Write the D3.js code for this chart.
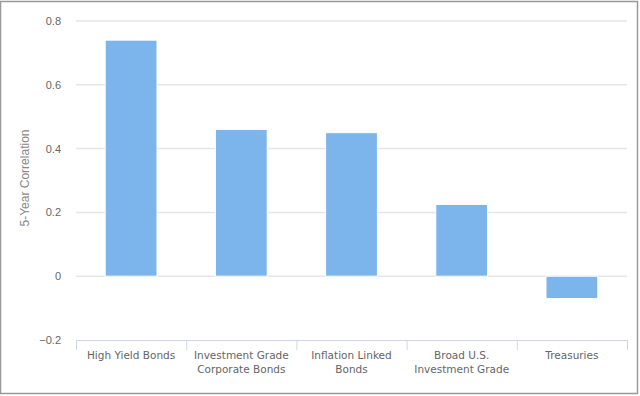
<!DOCTYPE html>
<html lang="en">
<head>
<meta charset="UTF-8" />
<title>5-Year Correlation</title>
<style>
  body { margin: 0; background: #fff; }
  text { font-family: "DejaVu Sans", sans-serif; }
  .yaxis text { font-family: "Liberation Sans", Arial, sans-serif; }
</style>
</head>
<body>
<svg id="svg" width="640" height="396"></svg>
<script src="https://d3js.org/d3.v7.min.js"></script>
<script>
const categories = [
  ['High Yield Bonds'],
  ['Investment Grade', 'Corporate Bonds'],
  ['Inflation Linked', 'Bonds'],
  ['Broad U.S.', 'Investment Grade'],
  ['Treasuries']
];
const correlations = [0.74, 0.46, 0.45, 0.225, -0.07];
const yTicks = [-0.2, 0, 0.2, 0.4, 0.6, 0.8];

const svg = d3.select('#svg');

// outer frame
svg.append('rect')
  .attr('x', 0.5).attr('y', 1.5)
  .attr('width', 637).attr('height', 392)
  .attr('fill', 'none')
  .attr('stroke', '#999')
  .attr('stroke-width', 1.5);

const plotLeft = 76, plotRight = 627, plotTop = 21, plotBottom = 340;

const x = d3.scaleBand()
  .domain(categories.map((d, i) => i))
  .range([plotLeft, plotRight])
  .padding(0);

const y = d3.scaleLinear().domain([-0.2, 0.8]).range([plotBottom, plotTop]);

// gridlines
svg.append('g')
  .selectAll('line')
  .data(yTicks.filter(d => d !== -0.2))
  .enter()
  .append('line')
  .attr('x1', plotLeft).attr('x2', plotRight)
  .attr('y1', d => y(d)).attr('y2', d => y(d))
  .attr('stroke', '#e6e6e6')
  .attr('stroke-width', 1.5);

// y labels
const yAxisG = svg.append('g').attr('class', 'yaxis');
const fmt = d3.format('');
yAxisG.selectAll('text.tick')
  .data(yTicks)
  .enter()
  .append('text')
  .attr('class', 'tick')
  .attr('x', 61)
  .attr('y', d => y(d) + 4)
  .attr('text-anchor', 'end')
  .attr('fill', '#666')
  .style('font-size', '11px')
  .text(d => d === 0 ? '0' : fmt(d));

// y title
yAxisG.append('text')
  .attr('transform', 'translate(29,178) rotate(-90)')
  .attr('text-anchor', 'middle')
  .attr('fill', '#888')
  .style('font-size', '12px')
  .text('5-Year Correlation');

// bars
const barW = x.bandwidth() * 0.47;
svg.append('g')
  .selectAll('rect')
  .data(correlations)
  .enter()
  .append('rect')
  .attr('x', (d, i) => x(i) + (x.bandwidth() - barW) / 2)
  .attr('y', d => Math.min(y(d), y(0)))
  .attr('width', barW)
  .attr('height', d => Math.abs(y(d) - y(0)))
  .attr('fill', '#7cb5ec')
  .attr('stroke', '#fff')
  .attr('stroke-width', 1);

// x axis
svg.append('line')
  .attr('x1', plotLeft).attr('x2', plotRight)
  .attr('y1', plotBottom + 0.5).attr('y2', plotBottom + 0.5)
  .attr('stroke', '#ccd6eb');

const tickXs = categories.map((d, i) => x(i)).concat([plotRight]);
svg.append('g')
  .selectAll('line')
  .data(tickXs)
  .enter()
  .append('line')
  .attr('x1', d => d + 0.5).attr('x2', d => d + 0.5)
  .attr('y1', plotBottom).attr('y2', plotBottom + 10)
  .attr('stroke', '#ccd6eb');

const labels = svg.append('g')
  .selectAll('text')
  .data(categories)
  .enter()
  .append('text')
  .attr('text-anchor', 'middle')
  .attr('fill', '#666')
  .style('font-size', '10.5px');
labels.selectAll('tspan')
  .data((d, i) => d.map(line => ({ line, i })))
  .enter()
  .append('tspan')
  .attr('x', d => x(d.i) + x.bandwidth() / 2)
  .attr('y', (d, j) => 359 + j * 14)
  .text(d => d.line);
</script>
</body>
</html>
